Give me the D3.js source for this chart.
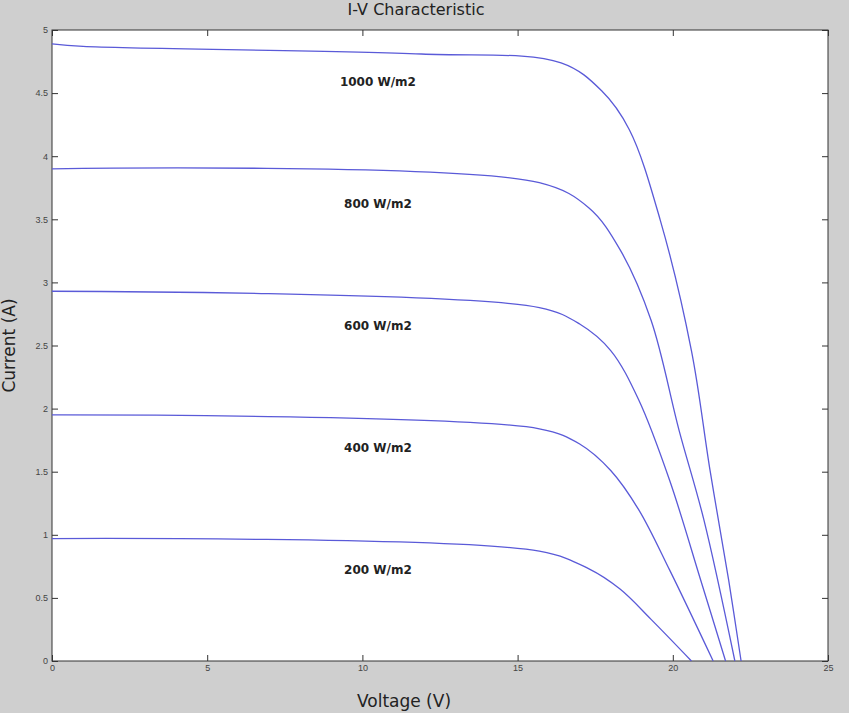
<!DOCTYPE html>
<html><head><meta charset="utf-8">
<script src="https://cdn.jsdelivr.net/npm/d3@7"></script>
<style>body{margin:0;background:#cfcfcf}</style>
</head><body><svg id="chart"></svg>
<script>
const irradiance = ["1000 W/m2", "800 W/m2", "600 W/m2", "400 W/m2", "200 W/m2"];
const voltages = [
  [0, 1, 11.9, 16.4, 17.7, 18.6, 19.6, 20.6, 21.2, 21.8, 22.2],
  [0, 15.7, 17.3, 18.3, 19.3, 20.2, 21.0, 22.0],
  [0, 15.7, 17.0, 18.0, 18.9, 19.9, 20.9, 21.7],
  [0, 15.7, 17.0, 18.0, 18.9, 19.9, 21.3],
  [0, 15.7, 17.3, 18.3, 19.3, 20.6]
];
const currents = [
  [4.89, 4.87, 4.81, 4.74, 4.52, 4.21, 3.49, 2.46, 1.51, 0.64, 0],
  [3.90, 3.79, 3.59, 3.26, 2.70, 1.83, 1.12, 0],
  [2.93, 2.80, 2.67, 2.46, 2.07, 1.43, 0.64, 0],
  [1.95, 1.84, 1.72, 1.51, 1.20, 0.72, 0],
  [0.97, 0.87, 0.73, 0.57, 0.33, 0]
];
const labelY = [4.56, 3.59, 2.62, 1.66, 0.69];
const xTicks = [0, 5, 10, 15, 20, 25];
const yTicks = [0, 0.5, 1, 1.5, 2, 2.5, 3, 3.5, 4, 4.5, 5];

const width = 849, height = 713;
const margin = { top: 30, right: 21, bottom: 52, left: 52 };
const svg = d3.select("#chart").attr("width", width).attr("height", height)
  .style("font-family", "DejaVu Sans, sans-serif");

const x = d3.scaleLinear().domain([0, 25]).range([margin.left, width - margin.right]);
const y = d3.scaleLinear().domain([0, 5]).range([height - margin.bottom, margin.top]);

svg.append("rect").attr("x", x(0)).attr("y", y(5))
  .attr("width", x(25) - x(0)).attr("height", y(0) - y(5))
  .attr("fill", "#fff").attr("stroke", "#333");

const fmt = d => String(d);
function styleAxis(g) {
  g.select(".domain").remove();
  g.selectAll("line").attr("stroke", "#333");
  g.selectAll("text").attr("fill", "#444").style("font-size", "9px");
}
svg.append("g").attr("transform", `translate(0,${y(0)})`)
  .call(d3.axisTop(x).tickValues(xTicks).tickFormat(fmt).tickSize(6).tickPadding(-16)).call(styleAxis);
svg.append("g").attr("transform", `translate(0,${y(5)})`)
  .call(d3.axisBottom(x).tickValues(xTicks).tickFormat("").tickSize(6)).call(styleAxis);
svg.append("g").attr("transform", `translate(${x(0)},0)`)
  .call(d3.axisRight(y).tickValues(yTicks).tickFormat(fmt).tickSize(6).tickPadding(-10))
  .call(styleAxis).selectAll("text").attr("text-anchor", "end");
svg.append("g").attr("transform", `translate(${x(25)},0)`)
  .call(d3.axisLeft(y).tickValues(yTicks).tickFormat("").tickSize(6)).call(styleAxis);

const line = d3.line().x(d => x(d[0])).y(d => y(d[1])).curve(d3.curveCatmullRom.alpha(0.5));
voltages.forEach((vs, i) => {
  const pts = vs.map((v, j) => [v, currents[i][j]]);
  svg.append("path").datum(pts)
    .attr("fill", "none").attr("stroke", "#5a5ad8").attr("stroke-width", 1.3)
    .attr("d", line);
  svg.append("text").attr("x", x(10.5)).attr("y", y(labelY[i]))
    .attr("text-anchor", "middle").style("font-size", "12px").style("font-weight", "bold")
    .attr("fill", "#222").text(irradiance[i]);
});

svg.append("text").attr("x", 416).attr("y", 15).attr("text-anchor", "middle")
  .style("font-size", "16px").attr("fill", "#222").text("I-V Characteristic");
svg.append("text").attr("x", 404).attr("y", 707).attr("text-anchor", "middle")
  .style("font-size", "17px").attr("fill", "#222").text("Voltage (V)");
svg.append("text").attr("transform", `translate(15,${(y(0) + y(5)) / 2}) rotate(-90)`)
  .attr("text-anchor", "middle").style("font-size", "17px").attr("fill", "#222").text("Current (A)");
</script></body></html>
